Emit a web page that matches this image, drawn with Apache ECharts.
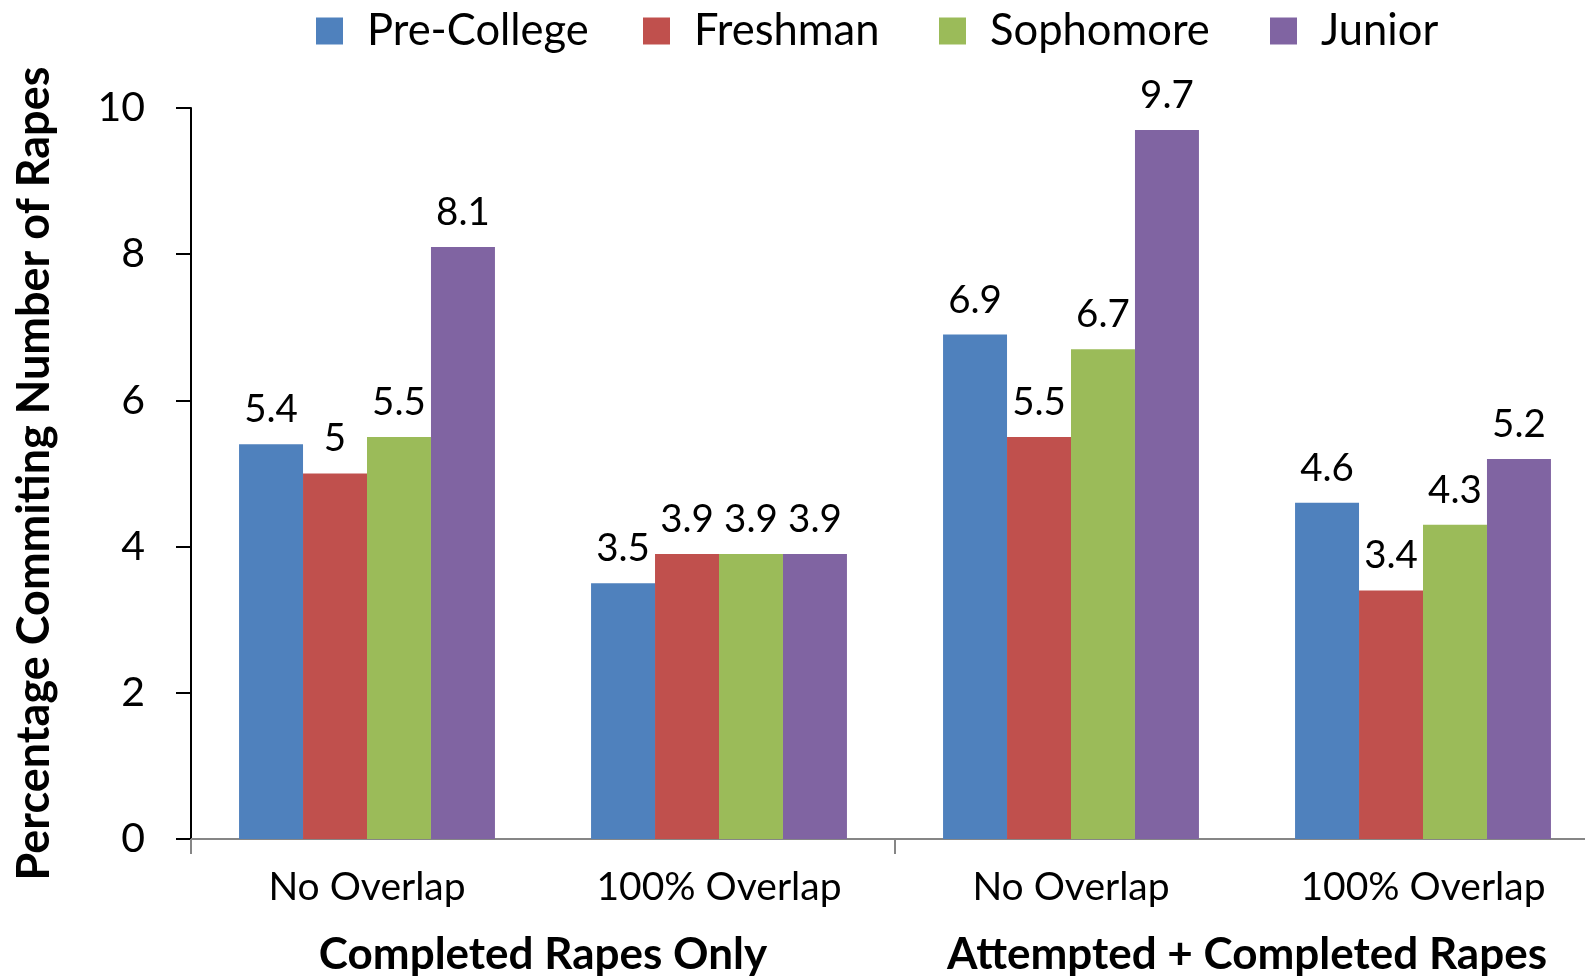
<!DOCTYPE html>
<html>
<head>
<meta charset="utf-8">
<script src="https://cdn.jsdelivr.net/npm/echarts@6/dist/echarts.min.js"></script>
<style>
html,body{margin:0;padding:0;background:#fff;overflow:hidden;}
#chart{width:1599px;height:977px;}
</style>
</head>
<body>
<div id="chart"></div>
<script>
const categories = ['No Overlap', '100% Overlap', 'No Overlap', '100% Overlap'];
const groups = ['Completed Rapes Only', 'Attempted + Completed Rapes'];
const seriesNames = ['Pre-College', 'Freshman', 'Sophomore', 'Junior'];
const preCollege = [5.4, 3.5, 6.9, 4.6];
const freshman = [5, 3.9, 5.5, 3.4];
const sophomore = [5.5, 3.9, 6.7, 4.3];
const junior = [8.1, 3.9, 9.7, 5.2];
const yTicks = [0, 2, 4, 6, 8, 10];
const colors = ['#4F81BD', '#C0504D', '#9BBB59', '#8064A2'];
const seriesValues = [preCollege, freshman, sophomore, junior];
const legendLefts = [316, 643, 939, 1270];

const FONT = 'Lato';
const chart = echarts.init(document.getElementById('chart'));

const legends = seriesNames.map((n, i) => ({
  data: [n],
  left: legendLefts[i],
  top: 9,
  padding: 0,
  icon: 'rect',
  itemWidth: 27,
  itemHeight: 27,
  selectedMode: false,
  textStyle: { fontFamily: FONT, fontSize: 43.5, color: '#000', padding: [0, 0, 0, 19] }
}));

const option = {
  animation: false,
  color: colors,
  legend: legends,
  grid: { left: 191, right: 0, top: 108, bottom: 137 },
  xAxis: [
    {
      type: 'category',
      data: categories,
      position: 'bottom',
      axisLine: { show: true, lineStyle: { color: '#868686', width: 2 } },
      axisTick: { show: false },
      axisLabel: { fontFamily: FONT, fontSize: 39, color: '#000', margin: 29, interval: 0 }
    },
    {
      type: 'category',
      data: groups,
      position: 'bottom',
      axisLine: { show: false },
      axisTick: { show: true, length: 15, lineStyle: { color: '#868686', width: 2 } },
      axisLabel: { fontFamily: FONT, fontSize: 44, fontWeight: 'bold', color: '#000', margin: 94, interval: 0 }
    }
  ],
  yAxis: {
    type: 'value',
    min: yTicks[0],
    max: yTicks[yTicks.length - 1],
    interval: yTicks[1] - yTicks[0],
    name: 'Percentage Commiting Number of Rapes',
    nameLocation: 'middle',
    nameGap: 134,
    nameTextStyle: { fontFamily: FONT, fontSize: 45, fontWeight: 'bold', color: '#000' },
    axisLine: { show: true, lineStyle: { color: '#000', width: 2 } },
    axisTick: { show: true, inside: false, length: 15, lineStyle: { color: '#000', width: 2 } },
    axisLabel: { fontFamily: FONT, fontSize: 41, color: '#000', margin: 46 },
    splitLine: { show: false }
  },
  series: seriesNames.map((n, i) => ({
    name: n,
    type: 'bar',
    xAxisIndex: 0,
    data: seriesValues[i],
    barGap: '0%',
    barCategoryGap: '27.3%',
    itemStyle: { color: colors[i] },
    label: {
      show: true,
      position: 'top',
      distance: 15,
      fontFamily: FONT,
      fontSize: 38.5,
      color: '#000'
    }
  }))
};
chart.setOption(option);
</script>
</body>
</html>
